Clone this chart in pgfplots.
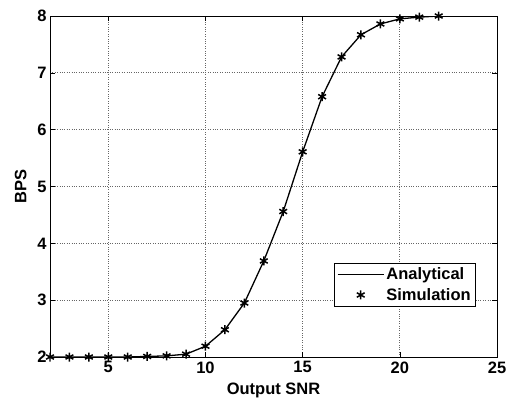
\documentclass[border=0pt]{standalone}
\usepackage{pgfplots}
\pgfplotsset{compat=1.18}
\usepackage{fontspec}
\setmainfont{Liberation Sans}
\pgfplotsset{
  longline/.style={legend image code/.code={\draw[##1, line width=1.3pt] (0bp,0bp) -- (46bp,0bp);}},
  centermark/.style={legend image code/.code={\draw[##1] plot coordinates {(23bp,0bp)};}},
}
\pgfplotstableread{
x y
2 2.00
3 2.00
4 2.00
5 2.00
6 2.00
7 2.01
8 2.02
9 2.05
10 2.19
11 2.48
12 2.95
13 3.69
14 4.56
15 5.61
16 6.58
17 7.28
18 7.67
19 7.86
20 7.95
21 7.98
22 8.00
}\data
\begin{document}
\begin{tikzpicture}[x=1bp,y=1bp]
\path[use as bounding box] (0,0) rectangle (507,399);
\begin{axis}[
  at={(50bp,42bp)}, anchor=south west,
  scale only axis, width=447bp, height=341bp,
  xmin=2, xmax=25, ymin=2, ymax=8,
  xtick={5,10,15,20,25}, ytick={2,3,4,5,6,7,8},
  grid=major,
  major grid style={dotted, black!60, line width=0.7pt},
  tick align=inside, tick pos=both,
  major tick length=5bp,
  axis line style={black, line width=0.8pt},
  every tick/.style={black, line width=0.6pt},
  font=\fontsize{16.5bp}{19bp}\selectfont\bfseries,
  /pgf/number format/assume math mode=true,
  xlabel={Output SNR}, ylabel={BPS},
  xlabel style={yshift=-3bp},
  ylabel style={yshift=4bp},
  xticklabel style={yshift=-1bp},
  legend cell align=left,
  legend style={at={(0.953,0.1466)}, anchor=south east, draw=black, line width=0.6pt,
    font=\fontsize{16.5bp}{19bp}\selectfont\bfseries, inner sep=3bp, row sep=3bp},
]
\addplot[black, line width=1.3pt, no markers, longline] table[x=x,y=y]{\data};
\addlegendentry{Analytical}
\addplot[only marks, black, mark=asterisk, mark size=4.5bp, line width=1.5pt, centermark] table[x=x,y=y]{\data};
\addlegendentry{Simulation}
\end{axis}
\end{tikzpicture}
\end{document}
